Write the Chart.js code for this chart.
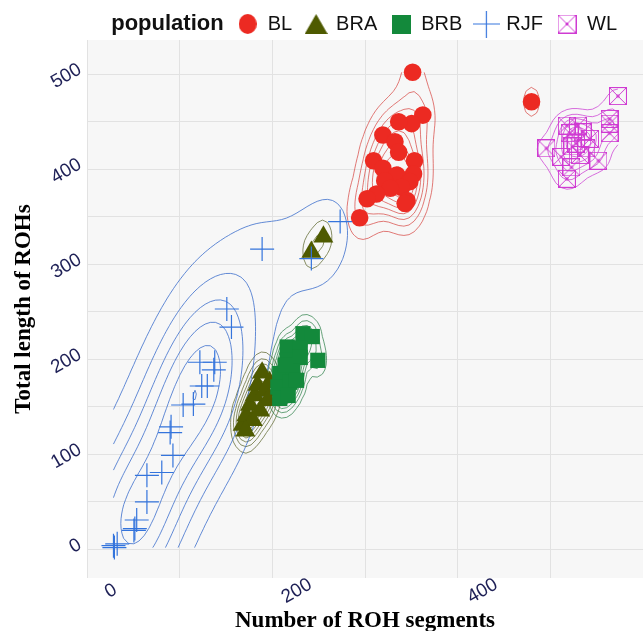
<!DOCTYPE html>
<html>
<head>
<meta charset="utf-8">
<script src="https://cdn.jsdelivr.net/npm/chart.js@4.4.0/dist/chart.umd.min.js"></script>
<style>
  html, body { margin: 0; padding: 0; background: #fff; }
</style>
</head>
<body>
<canvas id="rohChart" width="643" height="631"></canvas>
<script>
const populations = ['BL', 'BRA', 'BRB', 'RJF', 'WL'];

// number of ROH segments / total length of ROHs, per population
const blSegments = [329, 340, 328, 314, 297, 310, 314, 287, 331, 297, 330, 312, 299, 326, 317, 305, 290, 280, 323, 321, 272, 457];
const blLength   = [502, 457, 448, 450, 436, 429, 418, 409, 409, 401, 395, 394, 388, 387, 381, 380, 374, 369, 367, 364, 349, 471];

const braSegments = [233, 220, 146, 150, 154, 159, 162, 167, 170, 173, 157, 165, 149, 175];
const braLength   = [329, 313, 131, 141, 152, 162, 173, 186, 167, 157, 136, 146, 125, 176];

const brbSegments = [211, 221, 194, 208, 227, 194, 208, 186, 200, 184, 197, 186, 195, 204, 192];
const brbLength   = [227, 224, 213, 212, 199, 199, 202, 185, 188, 171, 176, 159, 162, 178, 194];

const rjfSegments = [129, 134, 100, 116, 115, 102, 108, 93, 82, 69, 68, 71, 59, 43, 43, 32, 30, 29, 11, 7, 8, 167, 220, 251];
const rjfLength   = [253, 234, 197, 197, 189, 172, 172, 153, 152, 129, 123, 99, 81, 78, 50, 31, 22, 20, 6, 4, 2, 316, 306, 345];

const wlSegments = [550, 541, 541, 473, 489, 495, 529, 509, 498, 512, 505, 520, 500, 495, 516, 507, 501, 541];
const wlLength   = [477, 453, 438, 422, 413, 390, 409, 415, 438, 439, 427, 432, 402, 446, 422, 446, 424, 448];

const xTickLabels = [0, 200, 400];
const yTickLabels = [0, 100, 200, 300, 400, 500];

const pointColors   = ['#ec2a22', '#4e5a00', '#13893b', '#3474dc', '#cf3bd2'];
const contourColors = ['rgba(214,70,66,0.8)', 'rgba(98,108,52,0.85)', 'rgba(45,128,72,0.8)', 'rgba(62,112,204,0.9)', 'rgba(204,64,212,0.85)'];

const groups = [
  [blSegments, blLength],
  [braSegments, braLength],
  [brbSegments, brbLength],
  [rjfSegments, rjfLength],
  [wlSegments, wlLength]
];

// ---- 2d density contours (like stat_density_2d) ----
const quantile = (s, p) => {
  const h = (s.length - 1) * p, lo = Math.floor(h);
  const hi = Math.min(lo + 1, s.length - 1);
  return s[lo] + (h - lo) * (s[hi] - s[lo]);
};

const bandwidthNrd = (v) => {
  const s = v.slice().sort((a, b) => a - b);
  const n = v.length;
  const mean = v.reduce((a, b) => a + b, 0) / n;
  const sd = Math.sqrt(v.reduce((a, b) => a + (b - mean) * (b - mean), 0) / (n - 1));
  const iqr = (quantile(s, 0.75) - quantile(s, 0.25)) / 1.34;
  return 4 * 1.06 * Math.min(sd, iqr) * Math.pow(n, -0.2);
};

const prettyBreaks = (lo, hi, nint) => {
  const cell = (hi - lo) / nint;
  const U = Math.pow(10, Math.floor(Math.log10(cell)));
  let unit = U;
  if (2 * U - cell < 1.5 * (cell - unit)) {
    unit = 2 * U;
    if (5 * U - cell < 2.75 * (cell - unit)) {
      unit = 5 * U;
      if (10 * U - cell < 1.5 * (cell - unit)) unit = 10 * U;
    }
  }
  const out = [];
  for (let k = Math.floor(lo / unit); k * unit <= hi; k++) out.push(k * unit);
  return out;
};

const densityContours = (xs, ys, lims, n) => {
  const hx = bandwidthNrd(xs) / 4, hy = bandwidthNrd(ys) / 4;
  const dn = t => Math.exp(-0.5 * t * t) / Math.sqrt(2 * Math.PI);
  const gx = [], gy = [];
  for (let i = 0; i < n; i++) {
    gx.push(lims[0] + i * (lims[1] - lims[0]) / (n - 1));
    gy.push(lims[2] + i * (lims[3] - lims[2]) / (n - 1));
  }
  const ax = gx.map(g => xs.map(x => dn((g - x) / hx)));
  const ay = gy.map(g => ys.map(y => dn((g - y) / hy)));
  const z = [];
  let zmin = Infinity, zmax = -Infinity;
  for (let i = 0; i < n; i++) {
    z.push([]);
    for (let j = 0; j < n; j++) {
      let s = 0;
      for (let k = 0; k < xs.length; k++) s += ax[i][k] * ay[j][k];
      s /= xs.length * hx * hy;
      z[i].push(s);
      zmin = Math.min(zmin, s); zmax = Math.max(zmax, s);
    }
  }
  const levels = prettyBreaks(zmin, zmax, 10).filter(l => l > zmin && l < zmax);
  const segs = [];
  const cross = (x1, y1, v1, x2, y2, v2, L) => {
    const t = (L - v1) / (v2 - v1);
    return [x1 + t * (x2 - x1), y1 + t * (y2 - y1)];
  };
  levels.forEach(L => {
    for (let i = 0; i < n - 1; i++) {
      for (let j = 0; j < n - 1; j++) {
        const a = z[i][j], b = z[i + 1][j], c = z[i + 1][j + 1], d = z[i][j + 1];
        const x0 = gx[i], x1 = gx[i + 1], y0 = gy[j], y1 = gy[j + 1];
        const pts = [];
        if ((a >= L) !== (b >= L)) pts.push(cross(x0, y0, a, x1, y0, b, L));
        if ((b >= L) !== (c >= L)) pts.push(cross(x1, y0, b, x1, y1, c, L));
        if ((c >= L) !== (d >= L)) pts.push(cross(x1, y1, c, x0, y1, d, L));
        if ((d >= L) !== (a >= L)) pts.push(cross(x0, y1, d, x0, y0, a, L));
        if (pts.length === 2) segs.push([pts[0], pts[1]]);
        else if (pts.length === 4) {
          segs.push([pts[0], pts[1]]);
          segs.push([pts[2], pts[3]]);
        }
      }
    }
  });
  return segs;
};

const allX = [].concat(...groups.map(g => g[0]));
const allY = [].concat(...groups.map(g => g[1]));
const lims = [Math.min(...allX), Math.max(...allX), Math.min(...allY), Math.max(...allY)];
const contours = groups.map(g => densityContours(g[0], g[1], lims, 100));

// ---- marker images ----
const makeIcon = (w, h, drawFn) => {
  const c = document.createElement('canvas');
  c.width = w; c.height = h;
  drawFn(c.getContext('2d'), w, h);
  return c;
};

const boxX = (ctx, w, h, col) => {
  ctx.strokeStyle = col;
  ctx.lineWidth = 1;
  ctx.strokeRect(0.5, 0.5, w - 1, h - 1);
  ctx.beginPath();
  ctx.moveTo(0.5, 0.5); ctx.lineTo(w - 0.5, h - 0.5);
  ctx.moveTo(w - 0.5, 0.5); ctx.lineTo(0.5, h - 0.5);
  ctx.stroke();
  ctx.fillStyle = col;
  ctx.fillRect(w / 2 - 1.5, h / 2 - 1.5, 3, 3);
};

const wlMarker = makeIcon(18, 18, (ctx, w, h) => boxX(ctx, w, h, pointColors[4]));

const legendIcons = [
  makeIcon(18, 20, (ctx, w, h) => {
    ctx.fillStyle = pointColors[0];
    ctx.beginPath(); ctx.ellipse(w / 2, h / 2, w / 2, h / 2, 0, 0, Math.PI * 2); ctx.fill();
  }),
  makeIcon(23, 20, (ctx, w, h) => {
    ctx.fillStyle = pointColors[1];
    ctx.beginPath(); ctx.moveTo(w / 2, 0); ctx.lineTo(w, h); ctx.lineTo(0, h); ctx.closePath(); ctx.fill();
  }),
  makeIcon(19, 19, (ctx, w, h) => {
    ctx.fillStyle = pointColors[2];
    ctx.fillRect(0, 0, w, h);
  }),
  makeIcon(27, 27, (ctx, w, h) => {
    ctx.strokeStyle = pointColors[3]; ctx.lineWidth = 1.2;
    ctx.beginPath();
    ctx.moveTo(0, h / 2); ctx.lineTo(w, h / 2);
    ctx.moveTo(w / 2, 0); ctx.lineTo(w / 2, h);
    ctx.stroke();
  }),
  makeIcon(19, 19, (ctx, w, h) => boxX(ctx, w, h, pointColors[4]))
];

const pointStyles = ['circle', 'triangle', 'rect', 'cross', wlMarker];
const pointRadii = [8.8, 11.5, 10.8, 12, 9];

const datasets = groups.map((g, i) => ({
  label: populations[i],
  data: g[0].map((x, k) => ({ x: x, y: g[1][k] })),
  pointStyle: pointStyles[i],
  pointRadius: pointRadii[i],
  pointHoverRadius: pointRadii[i],
  backgroundColor: pointColors[i],
  borderColor: pointColors[i],
  borderWidth: i === 3 ? 1.2 : 0,
  order: populations.length - i
}));

const tickFont = '19px "Liberation Sans", Arial, sans-serif';

const panelPlugin = {
  id: 'panel',
  beforeLayout(chart) {
    const lg = chart.legend;
    if (lg && !lg._fixed) {
      const fit = lg.fit;
      lg.fit = function () {
        fit.call(this);
        this.height = 40;
        this.lineWidths = this.lineWidths.map(w => w + 12);
      };
      lg._fixed = true;
    }
  },
  beforeDraw(chart) {
    const { ctx, chartArea: a } = chart;
    ctx.save();
    ctx.fillStyle = '#f7f7f7';
    ctx.fillRect(a.left, a.top, a.right - a.left, a.bottom - a.top);
    ctx.restore();
  },
  beforeDatasetsDraw(chart) {
    const { ctx, chartArea: a } = chart;
    const xs = chart.scales.x, ys = chart.scales.y;
    ctx.save();
    ctx.beginPath();
    ctx.rect(a.left, a.top, a.right - a.left, a.bottom - a.top);
    ctx.clip();
    ctx.lineWidth = 0.9;
    contours.forEach((segs, i) => {
      ctx.strokeStyle = contourColors[i];
      ctx.beginPath();
      segs.forEach(s => {
        ctx.moveTo(xs.getPixelForValue(s[0][0]), ys.getPixelForValue(s[0][1]));
        ctx.lineTo(xs.getPixelForValue(s[1][0]), ys.getPixelForValue(s[1][1]));
      });
      ctx.stroke();
    });
    ctx.restore();
  },
  afterDraw(chart) {
    const ctx = chart.ctx;
    const xs = chart.scales.x;
    // x tick labels, rotated about their centre
    ctx.save();
    ctx.font = tickFont;
    ctx.fillStyle = '#1e2056';
    ctx.textAlign = 'center';
    ctx.textBaseline = 'middle';
    xTickLabels.forEach(v => {
      ctx.save();
      ctx.translate(xs.getPixelForValue(v) + 4, chart.chartArea.bottom + 13);
      ctx.rotate(-Math.PI / 6);
      ctx.fillText(String(v), 0, 0);
      ctx.restore();
    });
    ctx.restore();
    // legend title
    const lg = chart.legend;
    if (!lg || !lg.legendHitBoxes.length) return;
    ctx.save();
    ctx.font = 'bold 22px "Liberation Sans", Arial, sans-serif';
    ctx.fillStyle = '#111';
    ctx.textAlign = 'right';
    ctx.textBaseline = 'middle';
    ctx.fillText('population', lg.legendHitBoxes[0].left - 14, 24);
    ctx.restore();
  }
};

const titleFont = { family: '"Liberation Serif", "Times New Roman", serif', size: 23, weight: 'bold' };

new Chart(document.getElementById('rohChart'), {
  type: 'scatter',
  data: { datasets: datasets },
  options: {
    responsive: false,
    animation: false,
    devicePixelRatio: 1,
    layout: { padding: 0, autoPadding: false },
    plugins: {
      tooltip: { enabled: false },
      legend: {
        position: 'top',
        align: 'end',
        reverse: true,
        labels: {
          usePointStyle: true,
          boxWidth: 20,
          padding: 14,
          color: '#111',
          font: { family: '"Liberation Sans", Arial, sans-serif', size: 20 },
          generateLabels(chart) {
            const items = Chart.defaults.plugins.legend.labels.generateLabels(chart);
            items.forEach(it => { it.pointStyle = legendIcons[it.datasetIndex]; });
            return items;
          }
        }
      }
    },
    scales: {
      x: {
        type: 'linear',
        min: -21.5,
        max: 577,
        afterFit(s) { s.height = 53; s.paddingLeft = 0; s.paddingRight = 0; },
        border: { display: false },
        grid: { color: '#e2e2e2', lineWidth: 1, drawTicks: false },
        ticks: {
          stepSize: 100,
          includeBounds: false,
          autoSkip: false,
          maxRotation: 0,
          callback: () => ''
        },
        title: { display: true, text: 'Number of ROH segments', color: '#000', font: titleFont, padding: { top: 0, bottom: -4 } }
      },
      y: {
        type: 'linear',
        min: -30,
        max: 536,
        afterFit(s) { s.width = 87; s.paddingTop = 0; s.paddingBottom = 0; },
        border: { display: false },
        grid: { color: '#e2e2e2', lineWidth: 1, drawTicks: false },
        ticks: {
          stepSize: 50,
          includeBounds: false,
          autoSkip: false,
          minRotation: 30,
          maxRotation: 30,
          labelOffset: -6,
          padding: 7,
          color: '#1e2056',
          font: { family: '"Liberation Sans", Arial, sans-serif', size: 19 },
          callback: v => yTickLabels.includes(v) ? String(v) : ''
        },
        title: { display: true, text: 'Total length of ROHs', color: '#000', font: titleFont, padding: { top: 10, bottom: 0 } }
      }
    }
  },
  plugins: [panelPlugin]
});
</script>
</body>
</html>
